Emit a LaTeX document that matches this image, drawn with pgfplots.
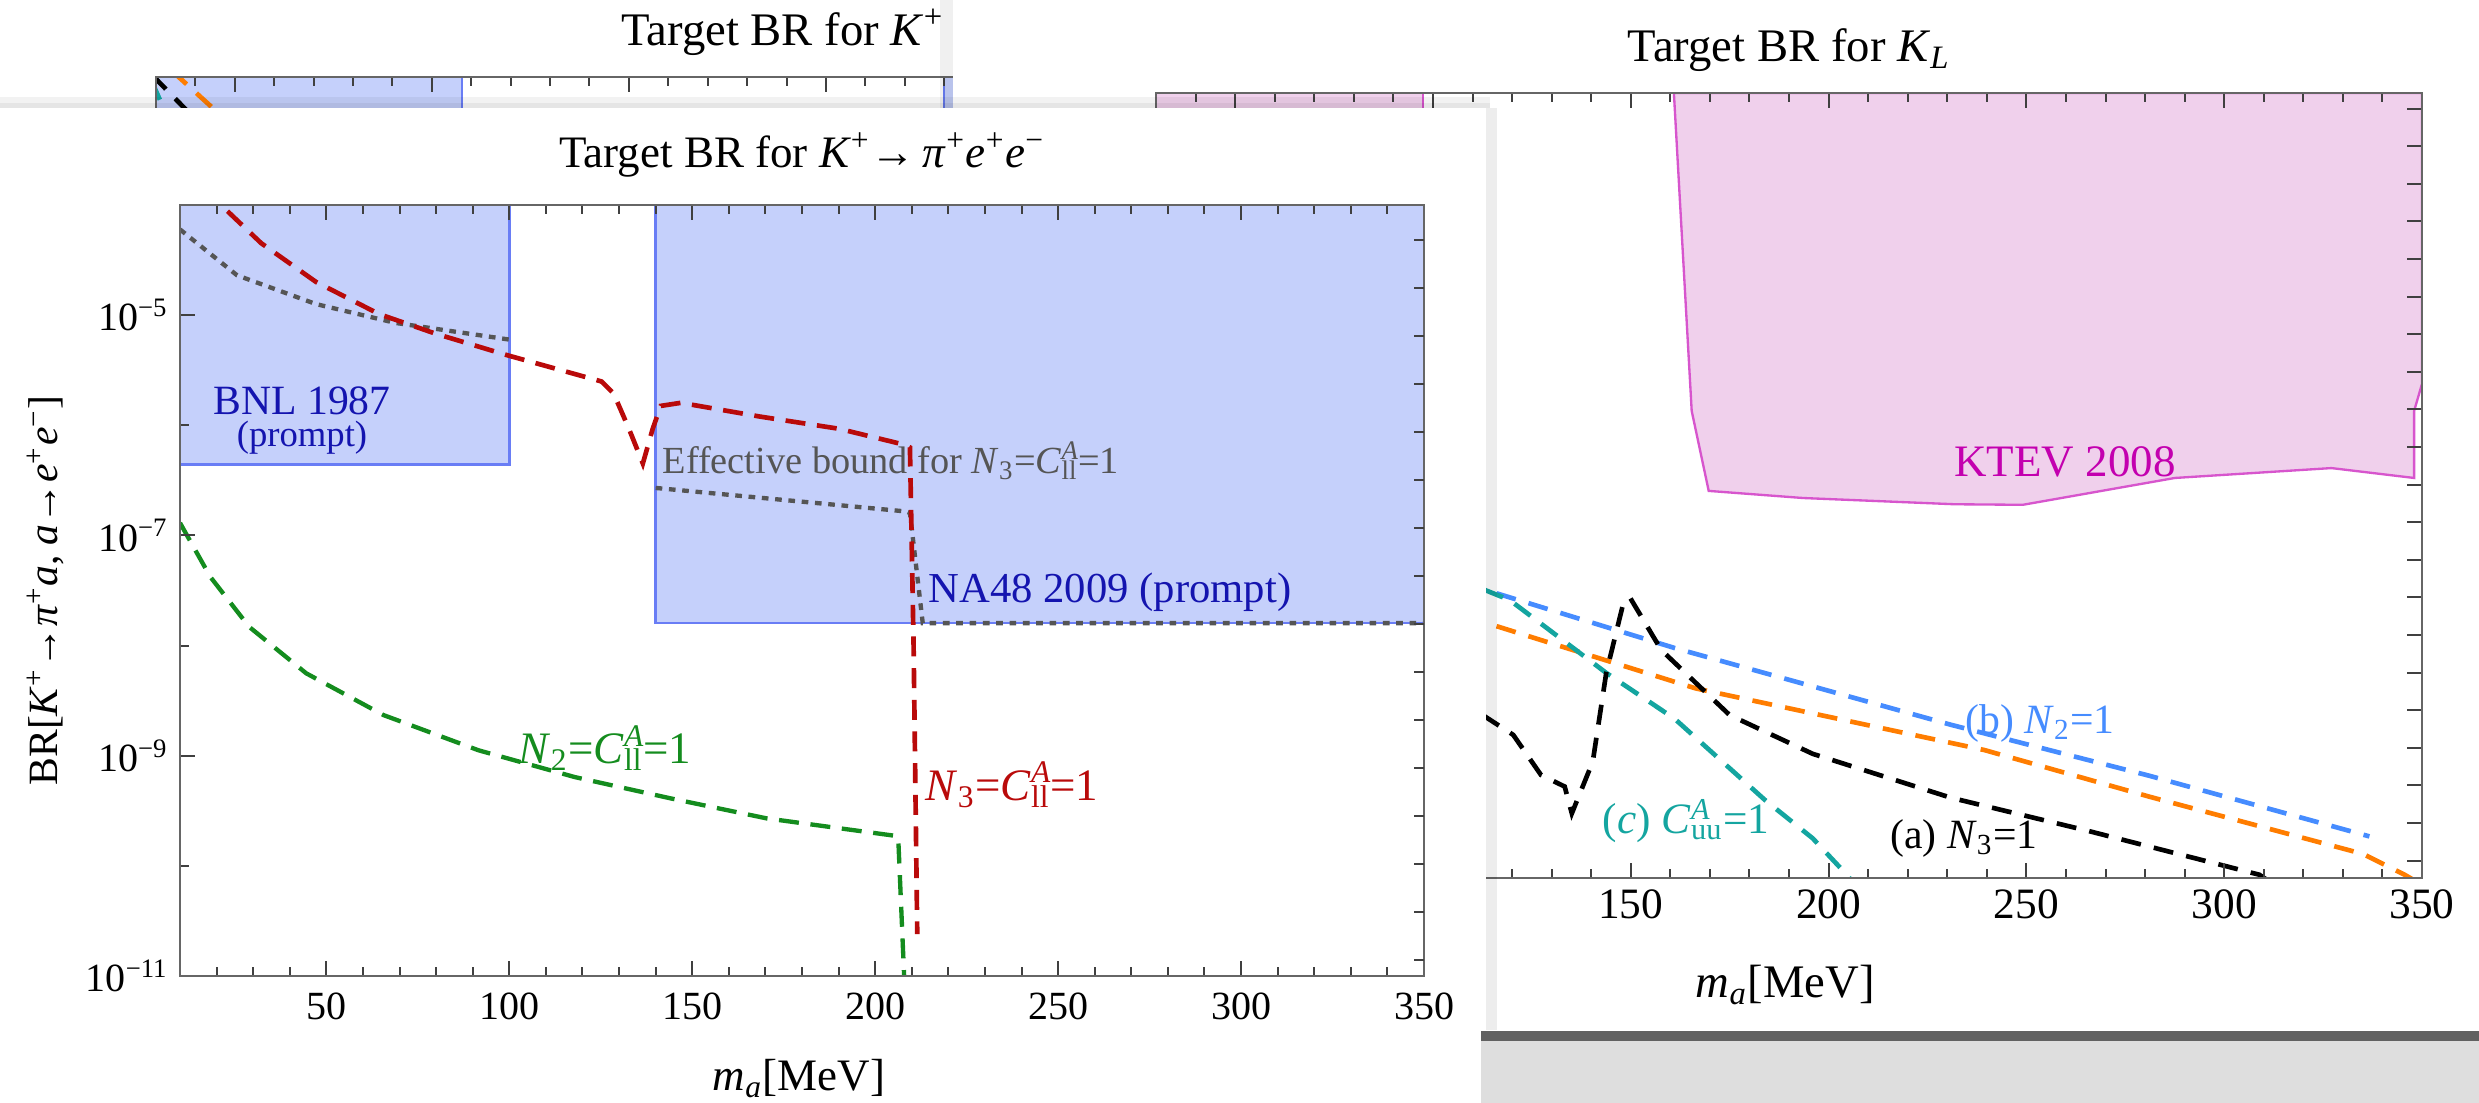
\documentclass[border=0pt]{standalone}
\usepackage{fontspec}
\setmainfont{Liberation Serif}
\usepackage{pgfplots}
\pgfplotsset{compat=1.18}

\newcommand\Sup[1]{\textsuperscript{#1}}
\newcommand\Sub[1]{\textsubscript{#1}}
\newcommand\fs[1]{\fontsize{#1}{#1}\selectfont}
\newcommand\CA[1]{\textit{C}\rlap{\Sup{\textit{A}}}\Sub{#1}}

\definecolor{bfill}{RGB}{197,208,251}
\definecolor{bedge}{RGB}{105,125,245}
\definecolor{pfill}{RGB}{240,208,236}
\definecolor{pedge}{RGB}{215,85,205}
\definecolor{cred}{RGB}{185,10,10}
\definecolor{cgreen}{RGB}{20,140,30}
\definecolor{cgray}{RGB}{85,85,85}
\definecolor{tblue}{RGB}{20,20,175}
\definecolor{cblue}{RGB}{70,140,255}
\definecolor{corange}{RGB}{255,125,0}
\definecolor{cteal}{RGB}{20,165,160}
\definecolor{cmag}{RGB}{195,0,175}

\pgfplotsset{
  kframe/.style={
    scale only axis, anchor=north west, axis on top,
    axis line style={draw=black!60, line width=0.6pt},
    tick style={black!75, line width=0.6pt},
    tick align=inside, major tick length=4.5pt, minor tick length=2.7pt,
    clip=true,
  },
  kdash/.style={line width=1.4pt, dash pattern=on 6pt off 4pt},
}

\begin{document}
\begin{tikzpicture}
\useasboundingbox (0,0) rectangle (743.7pt,-330.9pt);
\fill[white] (0,0) rectangle (743.7pt,-330.9pt);

% ---------------- background K+ panel ----------------
\begin{axis}[kframe, at={(46.8pt,-23.1pt)}, width=378.3pt, height=235.5pt,
  xmin=30, xmax=350, ymode=log, ymin=3.44e-21, ymax=2.6,
  xtick={50,100,...,350}, minor xtick={40,50,...,340}, xticklabels={},
  ytick={1e-10}, yticklabels={}, minor ytick={1e-30},
  title={\fs{14}Target BR for \textit{K}\Sup{+}},
  every axis title/.style={at={(axis description cs:0.497,1.057)}, anchor=center},
]
\addplot[fill=bfill, draw=bedge, line width=0.6pt] coordinates {(30,1e-8) (107.7,1e-8) (107.7,2.6) (30,2.6)} --cycle;
\addplot[fill=bfill, draw=bedge, line width=0.6pt] coordinates {(230,1e-8) (350,1e-8) (350,2.6) (230,2.6)} --cycle;
\addplot[cteal, kdash] coordinates {(29,2.0) (30,1.1) (32.6,0.27) (36,0.043)};
\addplot[black, kdash] coordinates {(29,3.0) (30,2.3) (39.7,0.21) (48,0.028)};
\addplot[corange, kdash] coordinates {(34,3.8) (36.6,2.16) (46.6,0.24) (55,0.038)};
\end{axis}

% ---------------- K_L paper ----------------
\fill[black, opacity=0.06] (282pt,0) rectangle (285.9pt,-34pt);
\fill[white] (285.9pt,0) rectangle (743.7pt,-309pt);

\begin{axis}[kframe, at={(346.8pt,-27.9pt)}, width=379.8pt, height=235.5pt,
  xmin=30, xmax=350, ymode=log, ymin=3.44e-21, ymax=2.6,
  xtick={50,100,...,350}, xticklabels={50,100,150,200,250,300,350},
  minor xtick={40,50,...,340},
  ytick={1e-20,1e-19,1e-18,1e-17,1e-16,1e-15,1e-14,1e-13,1e-12,1e-11,1e-10,1e-9,1e-8,1e-7,1e-6,1e-5,1e-4,1e-3,1e-2,1e-1,1},
  yticklabels={}, ytick pos=right, minor ytick={1e-30},
  tick label style={font=\fs{13}},
  title={\fs{14}Target BR for \textit{K}\Sub{\textit{L}}},
  every axis title/.style={at={(axis description cs:0.5,1.055)}, anchor=center},
  xlabel={\fs{14}\textit{m}\Sub{\textit{a}}[MeV]},
  xlabel style={at={(axis description cs:0.497,-0.136)}, anchor=center},
]
\addplot[fill=pfill, draw=pedge, line width=0.6pt] coordinates {(30,1e-6) (97.5,1e-6) (97.5,2.6) (30,2.6)} --cycle;
\addplot[fill=pfill, draw=pedge, line width=0.7pt] coordinates {(160.9,2.6) (165.4,9.1e-9) (169.7,6.8e-11) (193.5,4.4e-11) (231.9,3.0e-11) (249.1,2.9e-11) (287.5,1.5e-10) (327.1,2.75e-10) (348,1.5e-10) (348,9.1e-9) (350,4.8e-8) (350,2.6)} --cycle;
\addplot[cblue, kdash] coordinates {(100,4.3e-13) (112.6,1.66e-13) (161.1,4.5e-15) (230.9,4.1e-17) (281.1,1.8e-18) (336.7,4.4e-20)};
\addplot[corange, kdash] coordinates {(108,1.0e-14) (112.6,1.3e-14) (115.9,1.74e-14) (166.4,3.8e-16) (239.4,8.7e-18) (281.1,5e-19) (335.1,1.5e-20) (345.6,4.2e-21) (348,3e-21)};
\addplot[cteal, kdash] coordinates {(105,3e-13) (112.6,1.66e-13) (119.4,8.5e-14) (143.8,9.8e-16) (161.1,5.9e-17) (183.9,4.1e-19) (196,3.9e-20) (204.6,4.2e-21) (207,2e-21)};
\addplot[black, kdash] coordinates {(105,2e-16) (112.6,7.4e-17) (120.3,2.2e-17) (127.3,1.9e-18) (133.3,9.3e-19) (135.1,1.8e-19) (140.4,4.3e-18) (143.8,9.8e-16) (148.2,7.6e-14) (149.9,9.5e-14) (157.7,4e-15) (175,7.4e-17) (196,6.9e-18) (230.9,4.7e-19) (265.5,6.2e-20) (308.9,4.2e-21) (312,2.5e-21)};
\end{axis}
\node[font=\fs{13.5}, text=cmag] at (619.5pt,-138.6pt) {KTEV 2008};
\node[font=\fs{12.5}, text=cblue] at (612pt,-216.9pt) {(b) \textit{N}\Sub{2}=1};
\node[font=\fs{13}, text=cteal] at (505.8pt,-246.3pt) {(\textit{c}) \CA{uu}=1};
\node[font=\fs{12.5}] at (589.2pt,-251.4pt) {(a) \textit{N}\Sub{3}=1};

% ---------------- main paper ----------------
\fill[black, opacity=0.05] (0,-29pt) rectangle (447pt,-32.4pt);
\fill[black, opacity=0.05] (0,-30.8pt) rectangle (447pt,-32.4pt);
\fill[white] (0,-32.4pt) rectangle (445.8pt,-330.9pt);
\fill[black, opacity=0.07] (445.8pt,-32.4pt) rectangle (449pt,-309pt);

\begin{axis}[kframe, at={(54pt,-61.5pt)}, width=373.2pt, height=231.3pt,
  xmin=10, xmax=350, ymode=log, ymin=1e-11, ymax=1e-4,
  xtick={50,100,...,350}, xticklabels={50,100,150,200,250,300,350},
  minor xtick={20,30,...,340},
  ytick={1e-11,1e-9,1e-7,1e-5},
  yticklabels={10\Sup{−11},10\Sup{−9},10\Sup{−7},10\Sup{−5}},
  minor ytick={1e-10,1e-8,1e-6,1e-4},
  ytick pos=left,
  tick label style={font=\fs{12}},
  xticklabel style={yshift=-1.5pt},
  title={\fs{13.5}Target BR for \textit{K}\Sup{+}→\,\textit{π}\Sup{+}\textit{e}\Sup{+}\textit{e}\Sup{−}},
  every axis title/.style={at={(axis description cs:0.5,1.065)}, anchor=center},
  xlabel={\fs{13.5}\textit{m}\Sub{\textit{a}}[MeV]},
  xlabel style={at={(axis description cs:0.4976,-0.133)}, anchor=center},
  ylabel={\fs{12.5}BR[\textit{K}\Sup{+}→\textit{π}\Sup{+}\textit{a}, \textit{a}→\textit{e}\Sup{+}\textit{e}\Sup{−}]},
  ylabel style={at={(axis description cs:-0.108,0.5)}, anchor=center},
]
\addplot[fill=bfill, draw=bedge, line width=0.8pt] coordinates {(10,4.4e-7) (100,4.4e-7) (100,1e-4) (10,1e-4)} --cycle;
\addplot[fill=bfill, draw=bedge, line width=0.8pt] coordinates {(140,1.6e-8) (350,1.6e-8) (350,1e-4) (140,1e-4)} --cycle;
\addplot[cgray, line width=1.3pt, dash pattern=on 2pt off 2pt] coordinates {(10,6e-5) (25.6,2.3e-5) (47.2,1.26e-5) (68.9,8.5e-6) (100,6e-6)};
\addplot[cgray, line width=1.3pt, dash pattern=on 2pt off 2pt] coordinates {(140,2.7e-7) (175,2.1e-7) (208.5,1.65e-7) (209.5,1.6e-7) (213,1.6e-8) (350,1.6e-8)};
\addplot[cred, line width=1.4pt, dash pattern=on 6pt off 3.5pt] coordinates {(18,1.5e-4) (21.2,1e-4) (32.2,4.5e-5) (47.2,2.0e-5) (64.5,1.02e-5) (79.8,6.8e-6) (99.2,4.35e-6) (125.2,2.5e-6) (128.5,1.95e-6) (132.7,9.3e-7) (136.5,4.5e-7) (139.2,9.3e-7) (141.4,1.5e-6) (146.9,1.6e-6) (168.5,1.2e-6) (190.1,9.3e-7) (208.5,6.6e-7) (209.5,6.3e-7) (210.5,1e-8) (211.5,2.4e-11)};
\addplot[cgreen, line width=1.3pt, dash pattern=on 6pt off 3.5pt] coordinates {(10,1.3e-7) (18.3,4.2e-8) (28.9,1.48e-8) (44.5,5.6e-9) (65.6,2.34e-9) (91.6,1.12e-9) (117.9,6.4e-10) (144.1,4.1e-10) (170.3,2.7e-10) (205.7,1.87e-10) (206.3,1.8e-10) (208.3,5e-12)};
\end{axis}
% right-hand frame ticks of the main panel
\begin{axis}[scale only axis, anchor=north west, at={(54pt,-61.5pt)}, width=373.2pt, height=231.3pt,
  xmin=0, xmax=1, ymin=0, ymax=771, hide x axis, axis y line*=right,
  y axis line style={draw=none}, ytick={16,64,...,736}, yticklabels={},
  tick align=inside, major tick length=3pt, tick style={black!75, line width=0.6pt}]
\end{axis}

\node[font=\fs{12.5}, text=tblue] at (90.6pt,-120.3pt) {BNL 1987};
\node[font=\fs{11}, text=tblue] at (90.6pt,-131.4pt) {(prompt)};
\node[font=\fs{11.5}, text=cgray, anchor=west, inner sep=0pt] at (198.6pt,-138.3pt) {Effective bound for \textit{N}\Sub{3}=\CA{ll}=1};
\node[font=\fs{12.8}, text=tblue, anchor=west, inner sep=0pt] at (278.4pt,-177.6pt) {NA48 2009 (prompt)};
\node[font=\fs{13.5}, text=cgreen] at (181.5pt,-224.4pt) {\textit{N}\Sub{2}=\CA{ll}=1};
\node[font=\fs{13.5}, text=cred, anchor=west, inner sep=0pt] at (277.5pt,-235.5pt) {\textit{N}\Sub{3}=\CA{ll}=1};

% bottom-right torn strip
\fill[black!13] (444.3pt,-312.3pt) rectangle (743.7pt,-330.9pt);
\fill[black!62] (444.3pt,-309.3pt) rectangle (743.7pt,-312.3pt);
\end{tikzpicture}
\end{document}
